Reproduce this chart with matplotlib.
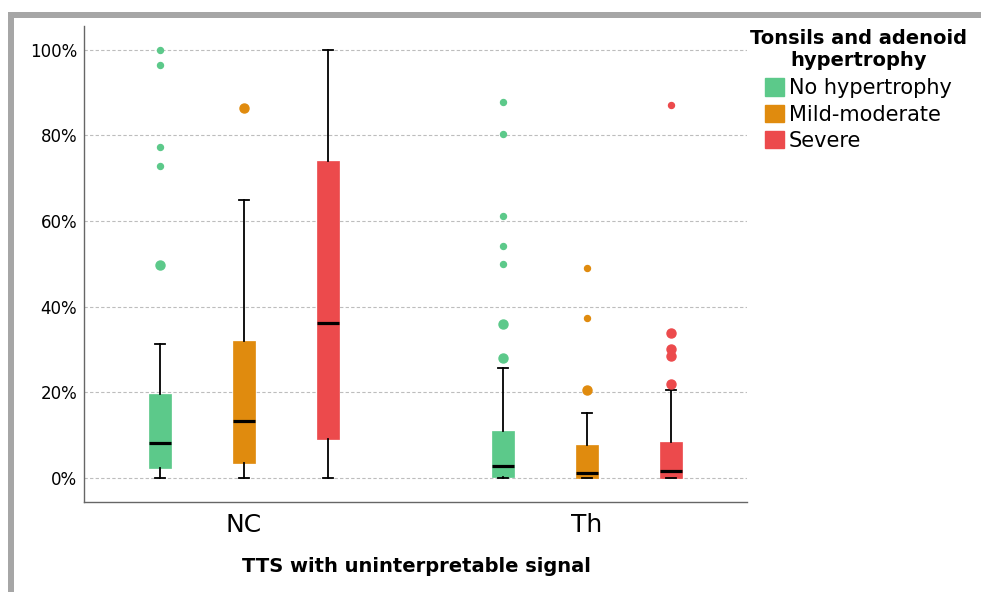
import matplotlib
matplotlib.use("Agg")
import matplotlib.pyplot as plt
from matplotlib.patches import Patch, Rectangle

# ---- data (percent) ----
groups = ["NC", "Th"]
series = ["No hypertrophy", "Mild-moderate", "Severe"]
colors = ["#5cc98a", "#e08b0e", "#ec4a4c"]

whislo = [[0, 0, 0], [0, 0, 0]]
q1 = [[2.3, 3.4, 9.2], [0.3, 0.0, 0.0]]
med = [[8.2, 13.3, 36.2], [2.8, 1.2, 1.7]]
q3 = [[19.6, 32.0, 73.9], [11.0, 7.7, 8.4]]
whishi = [[31.3, 65.0, 100.0], [25.7, 15.2, 20.6]]
outliers = [[[49.7], [86.3], []],
            [[28.1, 35.9], [20.5], [21.9, 28.5, 30.0, 33.9]]]
extremes = [[[100.0, 96.5, 77.3, 72.9], [], []],
            [[87.7, 80.3, 61.2, 54.1, 49.9], [37.4, 49.0], [87.0]]]

yticks = [0, 20, 40, 60, 80, 100]
ytick_labels = ["0%", "20%", "40%", "60%", "80%", "100%"]

# ---- figure ----
W, H = 981, 592
fig = plt.figure(figsize=(W / 100, H / 100), dpi=100)
ax = fig.add_axes([84 / W, 1 - 502 / H, (747 - 84) / W, (502 - 26) / H])

offset = 0.245
bw = 0.064
for gi, g in enumerate(groups):
    for si in range(3):
        pos = gi + (si - 1) * offset
        st = dict(whislo=whislo[gi][si], q1=q1[gi][si], med=med[gi][si],
                  q3=q3[gi][si], whishi=whishi[gi][si],
                  fliers=outliers[gi][si])
        ax.bxp([st], positions=[pos], widths=bw, patch_artist=True,
               showfliers=True, capwidths=0.03,
               boxprops=dict(facecolor=colors[si], edgecolor=colors[si],
                             linewidth=0.5),
               medianprops=dict(color="black", linewidth=2.3,
                                solid_capstyle="butt"),
               whiskerprops=dict(color="black", linewidth=1.3),
               capprops=dict(color="black", linewidth=1.3),
               flierprops=dict(marker="o", markersize=6.5,
                               markerfacecolor=colors[si],
                               markeredgecolor=colors[si]),
               zorder=3)
        ex = extremes[gi][si]
        if ex:
            ax.plot([pos] * len(ex), ex, linestyle="none", marker="o",
                    markersize=4.3, markerfacecolor=colors[si],
                    markeredgecolor=colors[si], zorder=3)

ax.set_xlim(-0.466, 1.466)
ax.set_ylim(-5.6, 105.5)
ax.set_xticks(range(len(groups)))
ax.set_xticklabels(groups, fontsize=18)
ax.set_yticks(yticks)
ax.set_yticklabels(ytick_labels, fontsize=12)
ax.tick_params(axis="both", length=0)
ax.tick_params(axis="y", pad=5)
ax.tick_params(axis="x", pad=8)
ax.yaxis.grid(True, linestyle=(0, (3, 2)), color="#bdbdbd", linewidth=0.8)
ax.set_axisbelow(True)
for s in ["top", "right"]:
    ax.spines[s].set_visible(False)
for s in ["left", "bottom"]:
    ax.spines[s].set_color("#666666")
    ax.spines[s].set_linewidth(1.0)

fig.text(416 / W, 1 - 567 / H, "TTS with uninterpretable signal",
         fontsize=14, fontweight="bold", ha="center", va="center")

handles = [Patch(facecolor=c, edgecolor=c) for c in colors]
leg = fig.legend(handles, series, loc="upper left",
                 bbox_to_anchor=(750 / W, 1 - 29 / H),
                 frameon=False, fontsize=15,
                 title="Tonsils and adenoid\nhypertrophy",
                 title_fontproperties=dict(size=14, weight="bold"),
                 handlelength=0.9, handleheight=0.9, handletextpad=0.22,
                 labelspacing=0.3, borderpad=0.0, borderaxespad=0.0)
leg.get_title().set_multialignment("center")
leg._legend_box.sep = leg._legend_box.sep + 1.5

# gray screenshot frame
fig.patches.append(Rectangle((8 / W, 1 - 18 / H), 1 - 8 / W, 6 / H,
                             transform=fig.transFigure, facecolor="#a6a6a6",
                             edgecolor="none"))
fig.patches.append(Rectangle((8 / W, 0), 6 / W, 1 - 12 / H,
                             transform=fig.transFigure, facecolor="#a6a6a6",
                             edgecolor="none"))

fig.savefig("out.png", dpi=100)
